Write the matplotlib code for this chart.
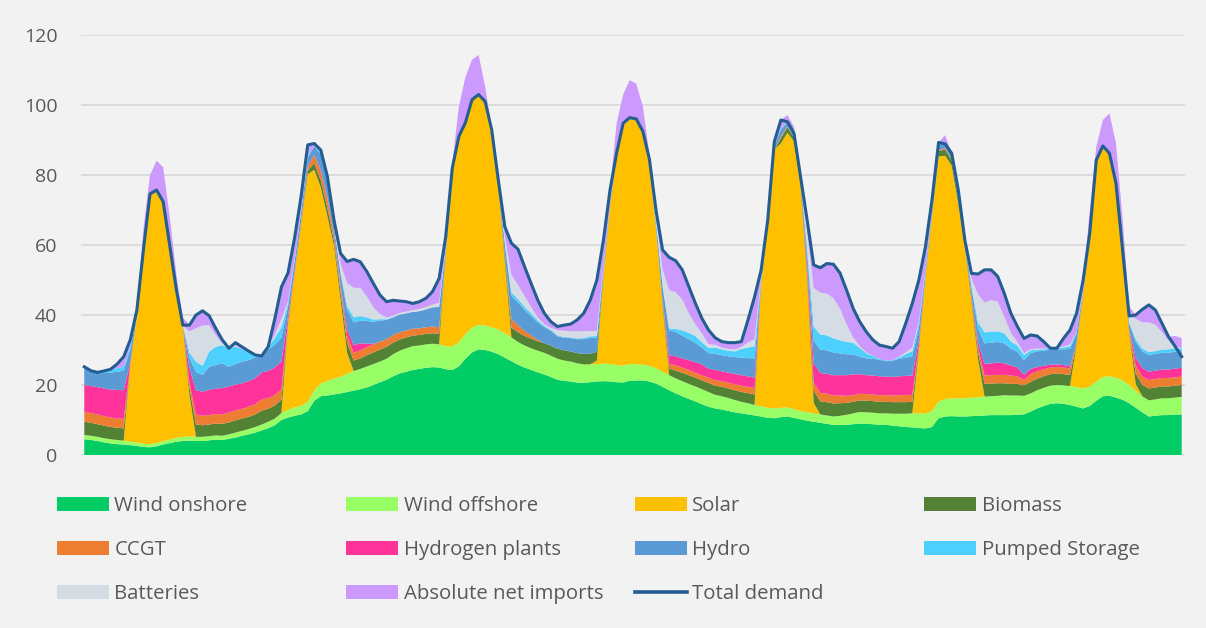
import numpy as np
import matplotlib
matplotlib.use("Agg")
import matplotlib.pyplot as plt
from matplotlib.patches import Patch
from matplotlib.lines import Line2D

hours = np.arange(168)

wind_onshore = [
    4.5, 4.3, 4.0, 3.6, 3.3, 3.1, 3.0, 2.8, 2.6, 2.3, 2.2, 2.5, 3.0, 3.4, 3.8, 4.0, 4.1, 4.0, 4.0, 4.2, 4.4, 4.3, 4.6, 5.0,
    5.5, 5.9, 6.4, 7.0, 7.7, 8.5, 10.0, 10.7, 11.2, 11.6, 12.5, 15.5, 16.8, 17.0, 17.3, 17.6, 18.0, 18.4, 18.8, 19.3, 20.0, 20.8, 21.5, 22.5,
    23.3, 23.8, 24.3, 24.6, 24.9, 25.1, 25.0, 24.5, 24.3, 25.3, 27.5, 29.3, 30.2, 30.0, 29.5, 28.8, 27.8, 26.8, 25.8, 25.0, 24.3, 23.6, 23.0, 22.3,
    21.5, 21.2, 21.0, 20.7, 20.6, 20.8, 21.0, 21.1, 21.0, 20.8, 20.7, 21.2, 21.3, 21.3, 21.0, 20.4, 19.5, 18.5, 17.6, 16.8, 16.0, 15.3, 14.5, 13.8,
    13.3, 13.0, 12.6, 12.2, 11.9, 11.6, 11.3, 11.0, 10.6, 10.5, 10.8, 11.0, 10.6, 10.2, 9.8, 9.5, 9.2, 8.9, 8.6, 8.6, 8.6, 8.8, 9.0, 8.9,
    8.8, 8.6, 8.6, 8.4, 8.2, 8.0, 7.9, 7.7, 7.6, 8.0, 10.5, 11.0, 11.1, 11.0, 11.0, 11.1, 11.2, 11.3, 11.4, 11.4, 11.4, 11.4, 11.5, 11.6,
    12.4, 13.3, 14.0, 14.6, 14.8, 14.6, 14.3, 13.8, 13.3, 14.0, 15.5, 16.8, 16.9, 16.4, 15.8, 14.8, 13.5, 12.2, 11.0, 11.2, 11.4, 11.4, 11.5, 11.6,
]

wind_offshore = [
    1.2, 1.2, 1.2, 1.2, 1.2, 1.2, 1.1, 1.0, 1.0, 0.9, 0.9, 0.9, 1.0, 1.0, 1.1, 1.2, 1.2, 1.2, 1.2, 1.2, 1.2, 1.2, 1.3, 1.4,
    1.4, 1.5, 1.6, 1.7, 1.8, 1.9, 2.0, 2.2, 2.4, 2.5, 2.7, 3.0, 3.6, 4.2, 4.5, 4.8, 5.2, 5.6, 5.8, 6.0, 6.0, 5.9, 6.0, 6.3,
    6.5, 6.7, 6.8, 6.7, 6.7, 6.7, 6.6, 6.6, 6.7, 6.9, 7.0, 7.1, 7.0, 7.0, 7.0, 7.1, 7.0, 6.8, 6.5, 6.3, 6.2, 6.2, 6.2, 6.1,
    6.0, 5.8, 5.7, 5.5, 5.3, 5.1, 5.0, 5.0, 5.0, 4.9, 4.8, 4.8, 4.6, 4.5, 4.5, 4.4, 4.3, 4.3, 4.3, 4.3, 4.3, 4.3, 4.3, 4.2,
    3.9, 3.8, 3.7, 3.5, 3.3, 3.2, 3.0, 2.9, 2.9, 2.8, 2.7, 2.6, 2.5, 2.4, 2.4, 2.4, 2.4, 2.4, 2.4, 2.6, 2.9, 3.1, 3.3, 3.3,
    3.3, 3.3, 3.3, 3.4, 3.6, 3.8, 4.0, 4.2, 4.3, 4.5, 4.8, 5.0, 5.1, 5.2, 5.2, 5.3, 5.3, 5.4, 5.4, 5.5, 5.7, 5.6, 5.5, 5.3,
    5.2, 5.2, 5.2, 5.2, 5.2, 5.3, 5.4, 5.6, 5.7, 5.6, 5.5, 5.5, 5.6, 5.7, 5.5, 5.2, 4.8, 4.6, 4.6, 4.7, 4.8, 4.8, 4.9, 5.0,
]

solar = [
    0, 0, 0, 0, 0, 0, 0, 22, 36, 54.5, 71, 72, 68, 55.5, 42, 31.5, 12, 0, 0, 0, 0, 0, 0, 0,
    0, 0, 0, 0, 0, 0, 0, 24, 38, 52, 65, 63, 56, 47, 38, 22, 6, 0, 0, 0, 0, 0, 0, 0,
    0, 0, 0, 0, 0, 0, 0, 26, 50.3, 58.5, 60.3, 64.9, 65.6, 63.8, 55.8, 41.5, 20, 0, 0, 0, 0, 0, 0, 0,
    0, 0, 0, 0, 0, 0, 1, 25, 45, 59.5, 68.6, 70, 70, 66.5, 58.5, 40, 19, 0, 0, 0, 0, 0, 0, 0,
    0, 0, 0, 0, 0, 0, 0, 35, 52.5, 74, 75.5, 78.5, 76.5, 64.5, 38, 3, 0, 0, 0, 0, 0, 0, 0, 0,
    0, 0, 0, 0, 0, 0, 0, 18, 39, 56, 70, 69.5, 66.5, 55.5, 43.5, 27.5, 11, 0, 0, 0, 0, 0, 0, 0,
    0, 0, 0, 0, 0, 0, 0, 12, 27, 42, 63, 65.5, 63.5, 55.2, 36.3, 15, 2, 0, 0, 0, 0, 0, 0, 0,
]

biomass = [
    3.8, 3.7, 3.6, 3.6, 3.5, 3.5, 3.5, 0, 0, 0, 0, 0, 0, 0, 0, 0, 2.0, 3.5, 3.3, 3.3, 3.4, 3.4, 3.4, 3.5,
    3.5, 3.5, 3.6, 4.0, 3.7, 3.8, 3.8, 0.5, 0.3, 0.4, 1.0, 1.9, 2.0, 2.3, 1.5, 2.0, 2.8, 3.0, 3.0, 3.2, 3.3, 3.4, 3.4, 3.3,
    3.2, 3.1, 3.0, 3.0, 3.0, 3.0, 3.0, 0.3, 0, 0, 0, 0, 0, 0, 0, 0, 1.5, 2.8, 2.8, 2.7, 2.7, 2.7, 2.8, 2.8,
    2.9, 2.9, 2.9, 2.9, 3.0, 3.0, 2.5, 0.5, 0, 0, 0, 0, 0, 0, 0, 0, 1.0, 1.9, 2.2, 2.4, 2.5, 2.5, 2.5, 2.6,
    2.6, 2.7, 2.7, 2.8, 2.8, 2.9, 3.0, 0, 0, 0, 1.5, 1.5, 1.0, 1.0, 1.5, 3.5, 3.7, 3.8, 3.7, 3.6, 3.4, 3.3, 3.3, 3.3,
    3.3, 3.3, 3.3, 3.3, 3.3, 3.3, 3.3, 0.8, 0, 0, 1.5, 1.8, 1.5, 1.3, 0.5, 1.0, 2.0, 3.6, 3.6, 3.6, 3.4, 3.3, 3.3, 3.0,
    3.3, 3.3, 3.3, 3.3, 3.3, 3.2, 3.2, 0.5, 0, 0, 0, 0, 0, 0, 0, 0.5, 3.0, 3.3, 3.4, 3.4, 3.4, 3.4, 3.4, 3.4,
]

ccgt = [
    2.9, 2.8, 2.8, 2.7, 2.7, 2.7, 2.7, 0, 0, 0, 0, 0, 0, 0, 0, 0, 1.5, 2.9, 2.7, 2.7, 2.7, 2.7, 2.8, 2.8,
    2.8, 2.9, 2.9, 3.2, 3.0, 3.0, 3.0, 0.5, 0.3, 0.4, 1.0, 2.4, 2.5, 2.5, 1.5, 1.5, 2.1, 2.2, 2.3, 2.3, 2.3, 2.3, 2.2, 2.2,
    2.1, 2.0, 2.0, 1.9, 1.9, 1.9, 1.9, 0.2, 0, 0, 0, 0, 0, 0, 0, 0, 1.0, 2.5, 2.0, 1.5, 1.0, 0.4, 0, 0,
    0, 0, 0, 0, 0, 0, 0, 0, 0, 0, 0, 0, 0, 0, 0, 0, 0.5, 1.4, 1.5, 1.5, 1.5, 1.4, 1.4, 1.5,
    1.6, 1.6, 1.7, 1.7, 1.8, 1.8, 1.8, 0, 0, 0, 0.5, 0.3, 0, 0, 1.0, 2.3, 2.4, 2.4, 2.3, 2.2, 2.0, 1.9, 1.9, 1.9,
    1.9, 1.9, 1.9, 1.9, 2.0, 2.0, 2.0, 0.5, 0, 0, 0.3, 0.4, 0.3, 0, 0, 0.5, 1.2, 2.4, 2.4, 2.4, 2.4, 2.4, 2.2, 1.5,
    2.2, 2.1, 2.0, 1.9, 1.9, 1.9, 1.8, 0.3, 0, 0, 0, 0, 0, 0, 0, 0.3, 2.3, 2.4, 2.4, 2.4, 2.4, 2.4, 2.4, 2.4,
]

hydrogen = [
    7.6, 7.7, 7.8, 7.9, 8.0, 8.1, 8.2, 0.8, 0, 0, 0, 0, 0, 0, 0, 0, 4.0, 6.9, 6.9, 7.2, 7.3, 7.5, 7.5, 7.4,
    7.3, 7.3, 7.4, 7.7, 7.8, 7.8, 7.9, 1.5, 0.5, 0, 0.3, 0, 0.5, 0.5, 0.5, 0.8, 1.8, 2.2, 2.0, 1.0, 0.2, 0, 0, 0,
    0, 0, 0, 0, 0, 0, 0, 0, 0, 0, 0, 0, 0, 0, 0, 0, 0, 0, 0, 0, 0, 0, 0, 0,
    0, 0, 0, 0, 0, 0, 0, 0, 0, 0, 0, 0, 0, 0, 0, 0, 0.3, 2.4, 2.6, 2.6, 2.8, 3.0, 3.2, 2.5,
    3.0, 2.8, 2.8, 3.0, 3.0, 3.0, 3.0, 0, 0, 0, 0, 0, 0, 0, 2.0, 5.5, 5.7, 5.7, 5.8, 5.8, 5.9, 5.9, 5.6, 5.4,
    5.4, 5.4, 5.3, 5.3, 5.4, 5.5, 5.5, 1.5, 0, 0, 0, 0, 0, 0, 0, 0.5, 1.5, 3.3, 3.4, 3.5, 3.3, 2.9, 2.5, 1.5,
    1.5, 1.2, 1.0, 0.8, 0.7, 0.7, 0.6, 0, 0, 0, 0, 0, 0, 0, 0, 0.3, 2.2, 2.4, 2.4, 2.4, 2.4, 2.4, 2.5, 2.5,
]

hydro = [
    5.2, 4.4, 4.0, 4.4, 4.8, 5.2, 5.6, 3.5, 0.5, 0.5, 0.3, 0.2, 0.2, 0.2, 0.3, 0.3, 3.0, 5.2, 4.8, 6.6, 6.7, 7.1, 5.6, 5.9,
    6.2, 6.0, 6.0, 4.7, 6.2, 6.5, 6.8, 3.0, 2.5, 2.5, 2.5, 2.4, 4.5, 4.5, 2.0, 3.0, 5.5, 6.5, 6.5, 6.5, 6.3, 6.0, 5.5, 5.0,
    5.0, 4.9, 4.8, 4.9, 5.1, 5.5, 5.8, 1.5, 0.5, 0.3, 0.2, 0.2, 0.2, 0.2, 0.4, 0.6, 3.0, 6.5, 6.5, 6.0, 5.5, 5.0, 4.5, 4.3,
    3.5, 3.6, 3.8, 4.0, 4.2, 4.5, 4.0, 1.5, 0.7, 0.5, 0.4, 0.2, 0.2, 0.3, 0.4, 1.5, 3.5, 7.1, 7.0, 6.5, 6.0, 5.5, 4.8, 4.5,
    4.5, 4.6, 4.7, 4.8, 5.0, 5.2, 5.5, 1.0, 0.6, 1.0, 2.0, 1.0, 0.8, 1.0, 3.0, 6.5, 6.7, 6.7, 6.5, 6.2, 6.0, 5.7, 5.0, 4.8,
    4.8, 4.7, 4.4, 4.6, 5.0, 5.2, 5.5, 3.5, 1.5, 1.2, 1.5, 1.5, 1.2, 1.5, 0.8, 2.0, 4.0, 5.9, 5.9, 5.9, 5.7, 4.8, 4.5, 4.2,
    4.5, 4.5, 4.3, 4.3, 4.3, 4.5, 5.0, 2.5, 1.0, 0.5, 0.3, 0.3, 0.2, 0.2, 0.5, 1.5, 4.5, 4.7, 4.8, 4.8, 4.8, 4.8, 4.8, 4.8,
]

pumped_storage = [
    0, 0, 0, 0.3, 0.7, 1.0, 1.2, 1.0, 0, 0, 0, 0, 0, 0, 0, 0, 1.5, 2.9, 2.6, 4.3, 5.2, 5.2, 5.3, 5.0,
    3.5, 2.4, 0.7, 0, 0.5, 2.0, 3.0, 1.0, 0.5, 0.3, 0.5, 0, 0.7, 0.8, 0.3, 0.5, 1.2, 1.4, 1.3, 1.0, 0.6, 0.4, 0.2, 0.1,
    0.1, 0, 0, 0, 0, 0, 0, 0, 0, 0, 0, 0, 0, 0, 0, 0.2, 0.5, 1.0, 1.0, 0.9, 0.8, 0.6, 0.4, 0.3,
    0.3, 0.2, 0.2, 0.2, 0.3, 0.5, 0.5, 0.2, 0, 0, 0, 0, 0, 0, 0, 0.3, 0.5, 0.5, 0.8, 1.5, 1.8, 2.0, 1.5, 1.5,
    1.8, 1.7, 1.6, 1.6, 2.5, 3.0, 3.5, 0.5, 0, 0, 0.3, 0.2, 0, 0, 1.5, 4.0, 4.3, 4.3, 4.0, 3.8, 3.5, 3.4, 2.5, 1.5,
    0.8, 0.3, 0.2, 0.2, 0.4, 1.0, 1.5, 1.5, 0.5, 0, 0.2, 0.2, 0, 0.2, 0, 0.5, 1.8, 3.1, 3.2, 3.0, 2.9, 2.0, 1.8, 1.5,
    0.8, 0.5, 0.4, 0.3, 0.3, 0.5, 0.8, 0.5, 0.2, 0, 0, 0, 0, 0, 0.2, 0.3, 0.8, 0.8, 0.8, 0.8, 0.9, 1.0, 1.0, 0.8,
]

batteries = [
    0, 0, 0, 0, 0, 0, 0, 0, 0, 0, 0, 0, 0, 0, 0, 0, 6.0, 9.6, 11.5, 7.6, 3.4, 0.5, 0, 0.3,
    0, 0, 0, 0, 0, 1.0, 2.5, 0.5, 0.2, 0, 0, 0, 0, 0.2, 0.5, 2.5, 6.5, 8.5, 8.0, 6.0, 3.5, 1.5, 0.5, 0.4,
    0.4, 0.5, 0.5, 0.6, 0.7, 0.8, 1.2, 0.3, 0, 0, 0, 0, 0, 0, 0, 0, 1.5, 5.0, 4.0, 3.0, 1.8, 0.8, 0.5, 0.5,
    1.5, 1.8, 1.8, 2.0, 2.0, 1.5, 1.5, 0.5, 0, 0, 0, 0, 0, 0, 0, 1.0, 4.5, 11.0, 10.5, 8.8, 5.6, 3.3, 2.5, 1.0,
    0.8, 0.5, 0.5, 0.5, 0.6, 1.5, 2.0, 0.2, 0, 0, 0, 0, 0, 0, 4.5, 11.0, 12.0, 11.9, 11.5, 9.0, 5.0, 1.5, 0.5, 0.2,
    0.1, 0, 0, 0, 0.2, 0.5, 1.0, 0.5, 0, 0, 0, 0, 0, 0, 0, 2.0, 8.0, 8.5, 9.0, 8.5, 4.7, 2.5, 1.0, 0.5,
    0.3, 0.3, 0.2, 0, 0, 0.3, 0.5, 0, 0, 0, 0, 0, 0, 0, 0, 2.0, 5.8, 7.5, 8.5, 7.5, 5.0, 2.5, 0.5, 0.2,
]

net_imports = [
    0, 0, 0, 0, 0.2, 1.0, 2.4, 2.0, 1.5, 6.5, 5.5, 8.5, 10.0, 8.0, 4.5, 2.2, 2.0, 3.8, 4.2, 2.7, 1.9, 1.0, 0, 0.8,
    0.7, 0.2, 0, 0, 0.3, 4.5, 9.0, 8.1, 6.1, 4.3, 3.1, 0.8, 0.5, 0.5, 1.0, 2.9, 6.2, 8.1, 7.5, 7.1, 6.8, 5.4, 4.5, 4.4,
    3.4, 2.8, 1.9, 2.1, 2.5, 3.7, 7.0, 3.0, 1.5, 8.5, 13.0, 11.4, 11.3, 4.3, 0.5, 0.4, 2.9, 9.1, 10.2, 8.4, 6.7, 5.0, 3.1, 1.8,
    1.0, 1.6, 2.0, 3.3, 5.1, 8.9, 14.5, 7.6, 4.0, 9.0, 8.5, 10.9, 10.0, 7.0, 1.5, 2.4, 5.5, 9.4, 9.0, 8.5, 7.6, 6.0, 4.3, 4.1,
    2.0, 1.7, 1.8, 2.0, 1.5, 6.4, 12.1, 2.3, 0.5, 1.2, 2.4, 2.0, 2.4, 2.0, 3.4, 6.6, 7.1, 8.6, 9.7, 10.2, 9.8, 8.3, 7.0, 5.9,
    4.5, 3.9, 4.0, 3.4, 4.3, 8.3, 12.6, 11.8, 6.6, 3.2, 0.5, 2.0, 0.5, 1.0, 0.4, 1.5, 5.7, 9.4, 8.6, 7.2, 6.7, 5.6, 4.4, 4.2,
    4.1, 3.6, 2.0, 0.1, 0, 2.3, 4.1, 5.3, 2.8, 7.4, 3.8, 7.6, 11.4, 11.5, 9.3, 2.5, 1.1, 3.7, 5.0, 4.2, 2.5, 1.1, 3.0, 2.7,
]

total_demand = [
    25.2, 24.1, 23.6, 24.0, 24.5, 26.0, 28.1, 32.9, 41.4, 58.6, 74.6, 75.7, 72.4, 60.0, 47.4, 37.1, 37.1, 40.0, 41.2, 39.8, 36.2, 32.9, 30.5, 32.1,
    30.9, 29.7, 28.6, 28.3, 31.0, 39.0, 48.0, 52.0, 62.0, 74.0, 88.6, 89.0, 87.1, 79.5, 67.1, 57.6, 55.3, 55.9, 55.2, 52.4, 49.0, 45.7, 43.8, 44.2,
    44.0, 43.8, 43.3, 43.8, 44.8, 46.7, 50.5, 62.4, 82.0, 91.0, 95.0, 101.5, 103.0, 101.0, 92.9, 78.6, 65.2, 60.5, 58.8, 53.8, 49.0, 44.3, 40.5, 38.1,
    36.7, 37.1, 37.4, 38.6, 40.5, 44.3, 50.0, 61.4, 75.7, 86.2, 94.8, 96.4, 96.0, 92.5, 84.5, 70.0, 58.6, 56.5, 55.5, 52.9, 48.1, 43.3, 39.0, 35.7,
    33.5, 32.4, 32.1, 32.1, 32.4, 38.6, 45.2, 52.9, 67.1, 89.5, 95.7, 95.2, 91.9, 79.5, 67.1, 54.3, 53.5, 54.7, 54.5, 52.0, 47.1, 41.9, 38.1, 35.2,
    32.9, 31.4, 31.0, 30.5, 32.4, 37.6, 43.3, 50.0, 59.5, 72.9, 89.3, 88.9, 86.2, 75.7, 61.4, 51.9, 51.7, 52.9, 52.9, 51.0, 46.2, 40.5, 36.7, 33.3,
    34.3, 34.0, 32.4, 30.5, 30.5, 33.3, 35.7, 40.5, 50.0, 63.3, 84.3, 88.3, 86.2, 77.6, 58.6, 39.7, 40.0, 41.6, 42.9, 41.4, 37.6, 33.8, 31.0, 28.1,
]

labels = ["Wind onshore", "Wind offshore", "Solar", "Biomass", "CCGT",
          "Hydrogen plants", "Hydro", "Pumped Storage", "Batteries",
          "Absolute net imports"]
colors = ["#00CC66", "#99FF66", "#FFC000", "#548235", "#ED7D31",
          "#FF3399", "#5B9BD5", "#4DCFFF", "#D6DCE4", "#CC99FF"]
demand_label = "Total demand"
demand_color = "#245E91"

series = [wind_onshore, wind_offshore, solar, biomass, ccgt, hydrogen,
          hydro, pumped_storage, batteries, net_imports]
for s in series + [total_demand]:
    assert len(s) == 168, len(s)

plt.rcParams['font.family'] = ['Open Sans', 'DejaVu Sans']

W, H = 1206, 628
fig = plt.figure(figsize=(W / 100, H / 100), dpi=100)
fig.patch.set_facecolor('#F2F2F2')
ax = fig.add_axes([81 / W, (H - 455) / H, 1104 / W, 420 / H])
ax.set_facecolor('#F2F2F2')

ax.stackplot(hours, *series, colors=colors, linewidth=0)
ax.plot(hours, total_demand, color=demand_color, lw=2.2, solid_joinstyle='round')

ax.set_xlim(-0.5, 167.5)
ax.set_ylim(0, 120)
ax.set_yticks(range(0, 121, 20))
ax.set_xticks([])
ax.grid(axis='y', color='#D9D9D9', lw=1.3)
ax.set_axisbelow(True)
for sp in ax.spines.values():
    sp.set_visible(False)
ax.tick_params(axis='y', length=0, pad=17, labelsize=14, labelcolor='#595959')

# legend: 4 columns x 3 rows, row-major like the original
fs = 14.7
fs_px = fs * 100 / 72
handles = [Patch(facecolor=c, edgecolor='none') for c in colors]
handles.append(Line2D([], [], color=demand_color, lw=2.6))
all_labels = labels + [demand_label]
col_x = [57, 346, 634.5, 924]
row_y = [506, 550, 594]
for k, (h, lab) in enumerate(zip(handles, all_labels)):
    r, c = divmod(k, 4)
    fig.legend(handles=[h], labels=[lab], loc='center left',
               bbox_to_anchor=(col_x[c] / W, 1 - row_y[r] / H),
               frameon=False, fontsize=fs, handlelength=52 / fs_px,
               handleheight=14 / fs_px, handletextpad=5.5 / fs_px,
               borderpad=0, borderaxespad=0, labelcolor='#595959')

fig.savefig("out.png", dpi=100, facecolor=fig.get_facecolor())
